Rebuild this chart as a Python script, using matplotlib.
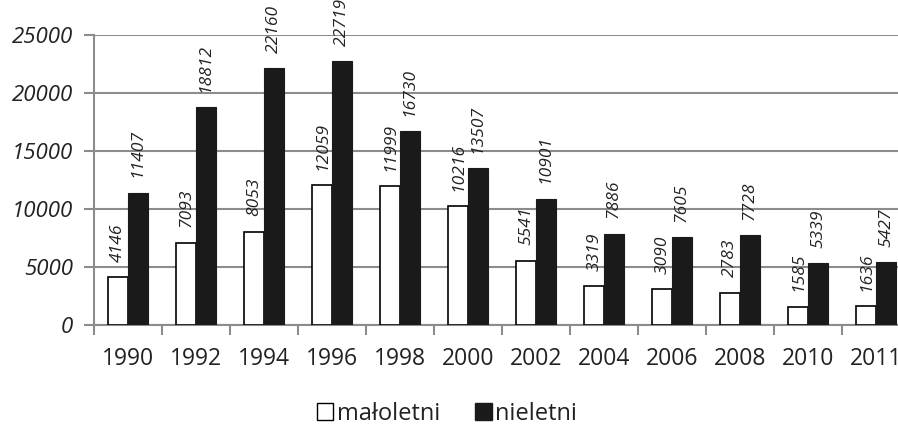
import matplotlib
matplotlib.use("Agg")
import matplotlib.pyplot as plt
import numpy as np
from matplotlib.patches import Patch

years = ["1990", "1992", "1994", "1996", "1998", "2000", "2002", "2004", "2006", "2008", "2010", "2011"]
maloletni = [4146, 7093, 8053, 12059, 11999, 10216, 5541, 3319, 3090, 2783, 1585, 1636]
nieletni = [11407, 18812, 22160, 22719, 16730, 13507, 10901, 7886, 7605, 7728, 5339, 5427]
yticks = [0, 5000, 10000, 15000, 20000, 25000]

plt.rcParams['font.family'] = ['Open Sans', 'DejaVu Sans']
W, H = 898, 425
fig = plt.figure(figsize=(W/100, H/100), dpi=100)
left, right, top, bottom = 94, 910, 35, 325
ax = fig.add_axes([left/W, 1-bottom/H, (right-left)/W, (bottom-top)/H])

grey = '#8c8c8c'
x = np.arange(len(years))
bw = 0.29
ax.bar(x - bw/2, maloletni, bw, color='white', edgecolor='black', linewidth=1.2, zorder=3)
ax.bar(x + bw/2, nieletni, bw, color='#1a1a1a', edgecolor='#1a1a1a', linewidth=0.8, zorder=3)

for xi, v in zip(x - bw/2, maloletni):
    ax.annotate(str(v), (xi, v), xytext=(0, 11), textcoords='offset points', rotation=90,
                ha='center', va='bottom', fontsize=12.5, style='italic', color='#222222')
for xi, v in zip(x + bw/2, nieletni):
    ax.annotate(str(v), (xi, v), xytext=(0, 11), textcoords='offset points', rotation=90,
                ha='center', va='bottom', fontsize=12.5, style='italic', color='#222222', annotation_clip=False)

ax.set_xlim(-0.5, len(years) - 0.5)
ax.set_ylim(0, 25000)
ax.set_yticks(yticks)
ax.set_yticklabels([str(t) for t in yticks], fontsize=16, style='italic', color='#222222')
ax.set_xticks(x)
ax.set_xticklabels(years, fontsize=16.5, color='#222222')
ax.set_xticks(np.arange(-0.5, len(years), 1), minor=True)
ax.tick_params(axis='x', which='major', length=0, pad=16)
ax.tick_params(axis='x', which='minor', length=7, width=1.5, color=grey)
ax.tick_params(axis='y', length=7, width=1.5, color=grey, pad=8)
ax.grid(axis='y', color=grey, linewidth=1.5, zorder=0)
for s in ['top', 'right']:
    ax.spines[s].set_visible(False)
for s in ['left', 'bottom']:
    ax.spines[s].set_color(grey)
    ax.spines[s].set_linewidth(1.5)

handles = [Patch(facecolor='white', edgecolor='black', linewidth=1.0, label='małoletni'),
           Patch(facecolor='#1a1a1a', edgecolor='#1a1a1a', label='nieletni')]
fig.legend(handles=handles, loc='center', bbox_to_anchor=(447/W, 1-414/H), ncol=2, frameon=False,
           fontsize=17, handlelength=0.7, handleheight=0.7, handletextpad=0.15, columnspacing=1.5,
           labelcolor='#222222')

fig.savefig('out.png', dpi=100)
